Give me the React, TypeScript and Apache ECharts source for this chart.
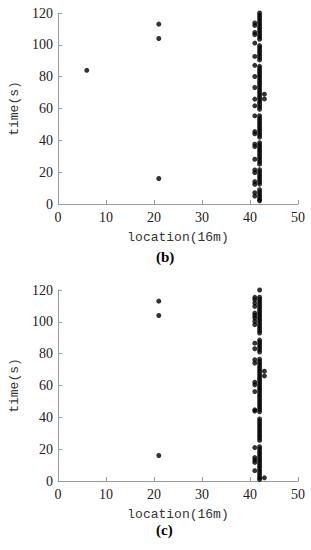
import React, { useEffect, useRef } from "react";
import * as echarts from "echarts";

// x tick labels / y tick labels
const xTicks = [0, 10, 20, 30, 40, 50];
const yTicks = [0, 20, 40, 60, 80, 100, 120];

// Panel (b): times (s) at each location
const bAt6 = [84];
const bAt21 = [113, 104, 16];
const bAt41 = [113.7, 112.2, 107.8, 106.4, 101.1, 92.7, 87.1, 80.1, 73.2, 65.9, 61.7, 55.4, 45.5, 44.1, 37.6, 36.1, 28.1, 21.4, 19.7, 14.1, 12.4, 7.1, 5.0];
const bAt42 = [
  120, 118.5, 117, 115.5, 114, 112.5, 111, 109.5, 108, 106.5, 105, 103.5,
  99.5, 98, 96.5, 95, 93.5, 92, 90.5,
  86.5, 85, 83.5, 82, 80.5, 79, 77.5, 76, 74.5, 73, 71.5, 70, 68.5, 67, 65.5, 64, 62.5, 61, 59.5,
  55.5, 54, 52.5, 51, 49.5, 48, 46.5, 45, 43.5, 42,
  38.5, 37, 35.5, 34, 32.5, 31, 29.5, 28, 26.5, 25,
  21.5, 20, 18.5, 17, 15.5, 14, 12.5,
  9, 7.5, 6, 4.5, 3, 2,
];
const bAt43 = [69, 66];

// Panel (c): times (s) at each location
const cAt21 = [113, 104, 16];
const cAt41 = [115.4, 113.9, 111.8, 109.7, 105.5, 104, 102.4, 100.3, 98.2, 86.6, 83.1, 76.2, 74.1, 62.1, 60.4, 56.2, 44.7, 44, 21, 14.7, 13.2, 11.7, 6.5];
const cAt42 = [
  120,
  115.5, 114, 112.5, 111, 109.5, 108, 106.5, 105, 103.5, 102, 100.5, 99, 97.5, 96, 94.5, 93,
  88.5, 87, 85.5, 84, 82.5, 81,
  76.5, 75, 73.5, 72, 70.5, 69, 67.5, 66, 64.5, 63, 61.5, 60, 58.5, 57, 55.5, 54, 52.5, 51, 49.5, 48, 46.5, 45, 43.5,
  39, 37.5, 36, 34.5, 33, 31.5, 30, 28.5, 27, 25.5,
  21.5, 20, 18.5, 17, 15.5, 14, 12.5, 11, 9.5, 8, 6.5, 5, 3.5, 2, 1,
];
const cAt43 = [69, 66, 2];

const pairs = (x: number, ys: number[]) => ys.map((y) => [x, y]);

const axisLine = { lineStyle: { color: "#9a9a9a", width: 1 } };
const axisTick = { inside: true, length: 4, lineStyle: { color: "#9a9a9a" } };
const labelStyle = { fontFamily: "'Liberation Serif', serif", fontSize: 14, color: "#222" };
const nameStyle = { fontFamily: "'Liberation Mono', monospace", fontSize: 13, color: "#333" };

function makeX(gridIndex: number) {
  return {
    type: "value" as const,
    gridIndex,
    min: xTicks[0],
    max: xTicks[xTicks.length - 1],
    interval: 10,
    name: "location(16m)",
    nameLocation: "middle" as const,
    nameGap: 27,
    nameTextStyle: nameStyle,
    axisLine,
    axisTick,
    splitLine: { show: false },
    axisLabel: { ...labelStyle, margin: 6 },
  };
}

function makeY(gridIndex: number) {
  return {
    type: "value" as const,
    gridIndex,
    min: yTicks[0],
    max: yTicks[yTicks.length - 1],
    interval: 20,
    name: "time(s)",
    nameLocation: "middle" as const,
    nameGap: 37,
    nameTextStyle: nameStyle,
    axisLine: { show: true, ...axisLine },
    axisTick,
    splitLine: { show: false },
    axisLabel: { ...labelStyle, margin: 5 },
  };
}

function scatter(idx: number, data: number[][]) {
  return {
    type: "scatter" as const,
    xAxisIndex: idx,
    yAxisIndex: idx,
    data,
    symbol: "circle",
    symbolSize: 5,
    itemStyle: { color: "#000" },
  };
}

export default function App() {
  const ref = useRef<HTMLDivElement>(null);
  useEffect(() => {
    if (!ref.current) return;
    const chart = echarts.init(ref.current, undefined, { renderer: "svg" });
    const bData = [
      ...pairs(6, bAt6),
      ...pairs(21, bAt21),
      ...pairs(41, bAt41),
      ...pairs(42, bAt42),
      ...pairs(43, bAt43),
    ];
    const cData = [
      ...pairs(21, cAt21),
      ...pairs(41, cAt41),
      ...pairs(42, cAt42),
      ...pairs(43, cAt43),
    ];
    chart.setOption({
      animation: false,
      backgroundColor: "#fff",
      grid: [
        { left: 56, top: 13, width: 242, height: 191 },
        { left: 56, top: 290, width: 242, height: 191 },
      ],
      xAxis: [makeX(0), makeX(1)],
      yAxis: [makeY(0), makeY(1)],
      series: [scatter(0, bData), scatter(1, cData)],
      graphic: [
        {
          type: "text",
          left: 156,
          top: 249,
          style: { text: "(b)", font: "bold 15px 'Liberation Serif'", fill: "#000" },
        },
        {
          type: "text",
          left: 156,
          top: 522,
          style: { text: "(c)", font: "bold 15px 'Liberation Serif'", fill: "#000" },
        },
      ],
    });
    return () => chart.dispose();
  }, []);
  return (
    <div
      ref={ref}
      style={{ position: "fixed", left: 0, top: 0, width: 311, height: 550, background: "#fff" }}
    />
  );
}
